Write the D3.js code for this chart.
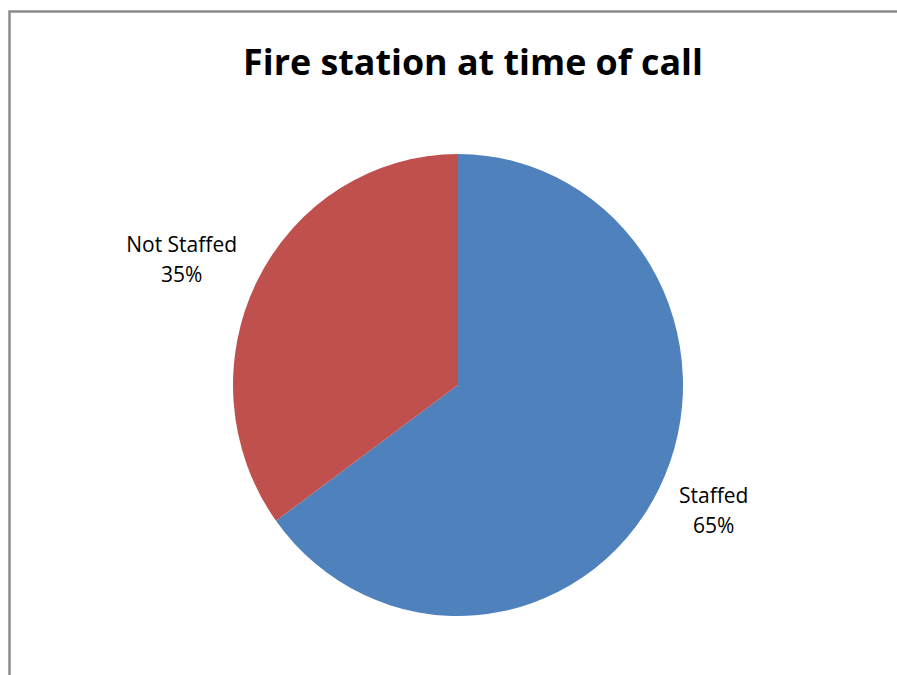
<!DOCTYPE html>
<html>
<head>
<meta charset="utf-8">
<script src="https://cdn.jsdelivr.net/npm/d3@7"></script>
<style>
  html, body { margin: 0; padding: 0; background: #fff; }
  svg { display: block; }
</style>
</head>
<body>
<svg id="chart" width="897" height="675"></svg>
<script>
// Share of calls by fire station staffing status
const categories = ["Staffed", "Not Staffed"];
const values = [65, 35];
const colors = ["#4F81BD", "#C0504D"];
const chartTitle = "Fire station at time of call";

const W = 897, H = 675;
const svg = d3.select("#chart");

// chart frame (only the top and left edges fall inside the view)
svg.append("rect")
  .attr("x", 9.5).attr("y", 11.5)
  .attr("width", W + 20).attr("height", H + 20)
  .attr("fill", "#fff")
  .attr("stroke", "#8c8c8c")
  .attr("stroke-width", 2.5);

// title
const title = svg.append("text")
  .attr("x", 473).attr("y", 75)
  .attr("text-anchor", "middle")
  .attr("font-family", "'Open Sans', 'Noto Sans', sans-serif")
  .attr("font-weight", "bold")
  .attr("font-size", 38)
  .attr("fill", "#000")
  .text(chartTitle);
// fit title width to the header span
const tw = title.node().getComputedTextLength();
title.attr("font-size", 38 * 460 / tw);

// pie
const cx = 458, cy = 385, r = 225, yScale = 231 / 225;
const pie = d3.pie().sort(null).value(d => d)(values);
const arc = d3.arc().innerRadius(0).outerRadius(r);

const g = svg.append("g")
  .attr("transform", `translate(${cx},${cy}) scale(1,${yScale})`);

g.selectAll("path")
  .data(pie)
  .join("path")
  .attr("d", arc)
  .attr("fill", (d, i) => colors[i]);

// data labels: the label's inner corner sits on an ellipse just outside the rim
const total = d3.sum(values);
const fs = 21, capH = 0.714 * fs, lineH = 30;
const labelRx = r + 23, labelRy = 226;
pie.forEach((d, i) => {
  const a = (d.startAngle + d.endAngle) / 2;
  const px = cx + labelRx * Math.sin(a);
  const py = cy - labelRy * Math.cos(a);
  const t = svg.append("text")
    .attr("font-family", "'Open Sans', 'Noto Sans', sans-serif")
    .attr("font-size", fs)
    .attr("fill", "#000")
    .attr("text-anchor", "middle");
  t.append("tspan").attr("x", 0).attr("y", 0).text(categories[i]);
  t.append("tspan").attr("x", 0).attr("y", lineH)
    .text(Math.round(values[i] / total * 100) + "%");
  const bb = t.node().getBBox();
  const right = Math.sin(a) >= 0;
  const below = -Math.cos(a) >= 0;
  const ox = right ? px - bb.x : px - (bb.x + bb.width);
  const oy = below ? py + capH : py - lineH;
  t.attr("transform", `translate(${ox},${oy})`);
});
</script>
</body>
</html>
